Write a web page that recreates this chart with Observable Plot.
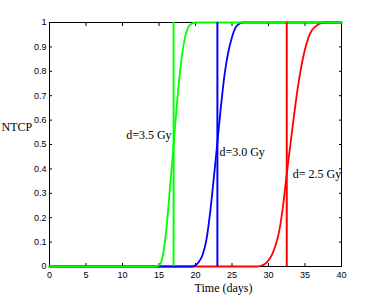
<!DOCTYPE html>
<html>
<head>
<meta charset="utf-8">
<script src="https://cdn.jsdelivr.net/npm/d3@7"></script>
<script src="https://cdn.jsdelivr.net/npm/@observablehq/plot@0.6"></script>
<style>
  html, body { margin: 0; padding: 0; background: #fff; }
  #chart { width: 376px; height: 299px; }
</style>
</head>
<body>
<div id="chart"></div>
<script>
// Tick values and labels
const xTicks = [0, 5, 10, 15, 20, 25, 30, 35, 40];
const yTicks = [0, 0.1, 0.2, 0.3, 0.4, 0.5, 0.6, 0.7, 0.8, 0.9, 1];
const yTickLabels = ["0", "0.1", "0.2", "0.3", "0.4", "0.5", "0.6", "0.7", "0.8", "0.9", "1"];

// NTCP curves (time in days, NTCP value)
const redTime  = [0, 28.5, 29, 29.5, 30, 30.5, 31, 31.5, 32, 32.5, 33, 33.5, 34, 34.5, 35, 35.5, 36, 36.5, 37, 37.5, 38, 40];
const redNtcp  = [0, 0, 0.003, 0.01, 0.025, 0.05, 0.09, 0.15, 0.25, 0.38, 0.5, 0.62, 0.73, 0.82, 0.89, 0.94, 0.97, 0.985, 0.995, 0.999, 1, 1];
const blueTime = [0, 19.5, 20, 20.5, 21, 21.5, 22, 22.5, 23, 23.5, 24, 24.5, 25, 25.5, 26, 26.5, 40];
const blueNtcp = [0, 0, 0.005, 0.02, 0.05, 0.11, 0.22, 0.36, 0.51, 0.66, 0.79, 0.88, 0.94, 0.98, 0.995, 1, 1];
const greenTime = [0, 14.5, 15, 15.5, 16, 16.5, 17, 17.5, 18, 18.5, 19, 19.5, 20, 40];
const greenNtcp = [0, 0, 0.005, 0.04, 0.15, 0.32, 0.5, 0.68, 0.83, 0.93, 0.98, 0.995, 1, 1];

// Vertical markers and their labels
const markerDays = [17, 23, 32.5];
const markerColors = ["#00ff00", "#0000ff", "#ff0000"];
const labelText = ["d=3.5 Gy", "d=3.0 Gy", "d= 2.5 Gy"];
const labelX = [17, 23, 32.5];
const labelY = [0.54, 0.467, 0.38];

const toRows = (T, V) => T.map((t, i) => ({t, v: V[i]}));
const red = toRows(redTime, redNtcp);
const blue = toRows(blueTime, blueNtcp);
const green = toRows(greenTime, greenNtcp);
const markers = markerDays.map((d, i) => ({d, c: markerColors[i]}));
const labels = labelText.map((s, i) => ({s, x: labelX[i], y: labelY[i]}));

const serif = "'Liberation Serif', 'Times New Roman', serif";

const chart = Plot.plot({
  width: 376,
  height: 299,
  marginLeft: 49,
  marginRight: 35,
  marginTop: 22,
  marginBottom: 33,
  style: {fontFamily: "'Liberation Sans', Arial, sans-serif", fontSize: "9px", background: "#fff", color: "#000", overflow: "visible"},
  x: {domain: [0, 40]},
  y: {domain: [0, 1]},
  marks: [
    Plot.axisX({anchor: "bottom", ticks: xTicks, tickSize: -3, tickPadding: 8, label: null, tickFormat: d => String(d)}),
    Plot.axisX({anchor: "top", ticks: xTicks, tickSize: -3, label: null, tickFormat: () => ""}),
    Plot.axisY({anchor: "left", ticks: yTicks, tickSize: -3, tickPadding: 6, label: null, tickFormat: (d, i) => yTickLabels[i]}),
    Plot.axisY({anchor: "right", ticks: yTicks, tickSize: -3, label: null, tickFormat: () => ""}),
    Plot.frame({stroke: "#000"}),
    Plot.line(red, {x: "t", y: "v", stroke: "#ff0000", strokeWidth: 1.8, curve: "monotone-x"}),
    Plot.line(blue, {x: "t", y: "v", stroke: "#0000ff", strokeWidth: 1.8, curve: "monotone-x"}),
    Plot.line(green, {x: "t", y: "v", stroke: "#00ff00", strokeWidth: 1.8, curve: "monotone-x"}),
    Plot.ruleX(markers, {x: "d", y1: 0, y2: 1, stroke: "c", strokeWidth: 2}),
    Plot.text([labels[0]], {x: "x", y: "y", text: "s", textAnchor: "end", dx: -2, fontFamily: serif, fontSize: 12, fill: "#000"}),
    Plot.text([labels[1]], {x: "x", y: "y", text: "s", textAnchor: "start", dx: 2, fontFamily: serif, fontSize: 12, fill: "#000"}),
    Plot.text([labels[2]], {x: "x", y: "y", text: "s", textAnchor: "start", dx: 6, fontFamily: serif, fontSize: 12, fill: "#000"}),
    Plot.text(["Time (days)"], {frameAnchor: "bottom", dx: 28, dy: 25, fontFamily: serif, fontSize: 12, fill: "#000"}),
    Plot.text(["NTCP"], {frameAnchor: "left", textAnchor: "start", dx: -48, dy: -17, fontFamily: serif, fontSize: 12, fill: "#000"})
  ]
});
document.getElementById("chart").appendChild(chart);
</script>
</body>
</html>
